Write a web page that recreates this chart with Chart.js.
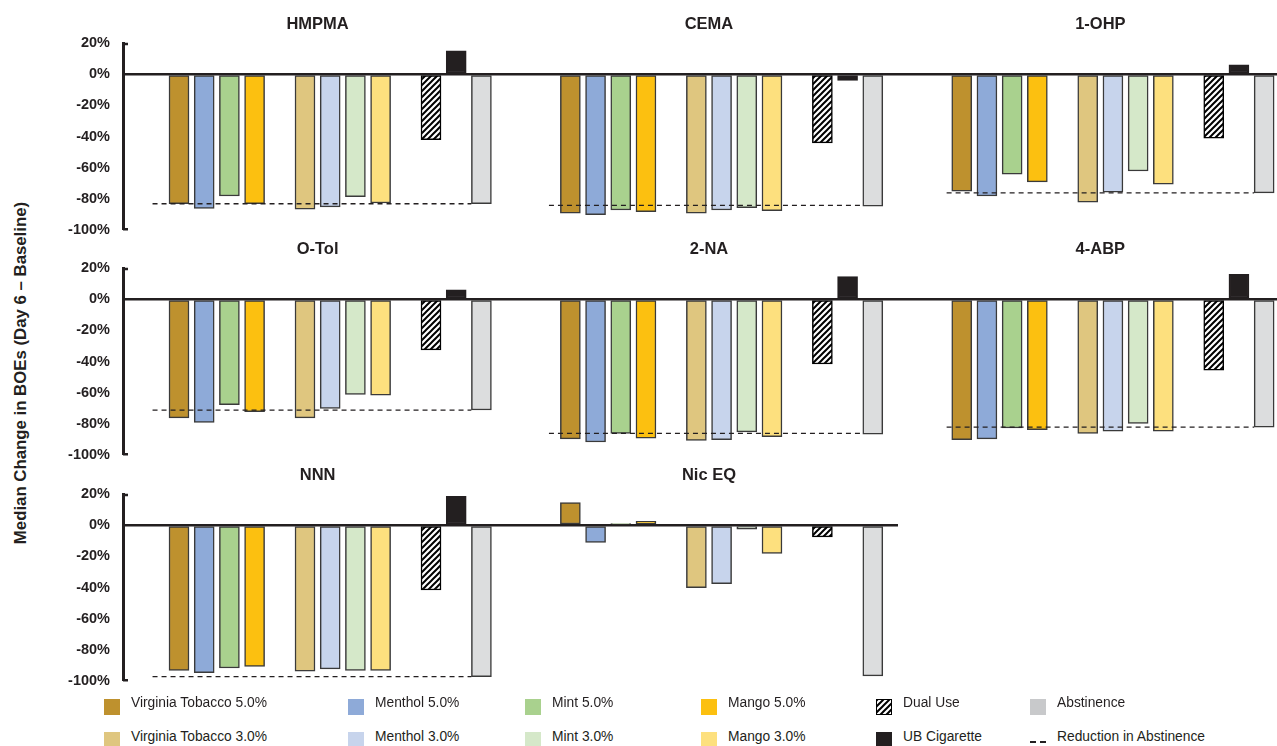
<!DOCTYPE html>
<html>
<head>
<meta charset="utf-8">
<title>Median change in BOEs</title>
<script src="https://cdn.jsdelivr.net/npm/chart.js@4.4.1/dist/chart.umd.min.js"></script>
<style>
  body { margin: 0; background: #fff; font-family: "Liberation Sans", Arial, sans-serif; color: #231f20; }
  #page { position: relative; width: 1277px; height: 746px; overflow: hidden; }
  #page canvas { position: absolute; left: 0; }
  #ytitle { position: absolute; left: 21px; top: 373px; transform: translate(-50%, -50%) rotate(-90deg); font-weight: bold; font-size: 16.8px; white-space: nowrap; }
  .key { position: absolute; font-size: 13.8px; line-height: 16px; white-space: nowrap; }
  .swatch { position: absolute; width: 16px; height: 16px; box-sizing: border-box; }
</style>
</head>
<body>
<div id="page">
  <div id="ytitle">Median Change in BOEs (Day 6 – Baseline)</div>
</div>
<script>
// one value per panel, same order as panels
const panels = ['HMPMA', 'CEMA', '1-OHP', 'O-Tol', '2-NA', '4-ABP', 'NNN', 'Nic EQ']

const groups = [
  'Virginia Tobacco 5.0%', 'Menthol 5.0%', 'Mint 5.0%', 'Mango 5.0%',
  'Virginia Tobacco 3.0%', 'Menthol 3.0%', 'Mint 3.0%', 'Mango 3.0%',
  'Dual Use', 'UB Cigarette', 'Abstinence',
]

const vt5 = [-83, -89, -75, -76, -89.5, -90, -93, 14.5]
const menthol5 = [-86, -90, -78, -79, -91.5, -89.5, -94.5, -11]
const mint5 = [-78, -87, -64, -67.5, -86, -82.5, -91.5, 1]
const mango5 = [-83, -88, -69, -72, -89, -83.5, -90.5, 2.5]
const vt3 = [-86.5, -89, -82, -76, -90.5, -86, -93.5, -40]
const menthol3 = [-85, -87, -75.5, -70, -90, -84.5, -92, -37.5]
const mint3 = [-78.5, -85.5, -62, -61, -85, -79.5, -93, -2.5]
const mango3 = [-82.5, -87.5, -70.5, -61.5, -88, -84.5, -93, -18]
const dualUse = [-42, -44, -41, -32.5, -41.5, -45.5, -41.5, -7.5]
const ubCigarette = [15, -4, 6, 6, 14.5, 16, 18.5, null]
const abstinence = [-83, -84.5, -76, -71, -86.5, -82, -97, -96.5]
const abstinenceReduction = [-83, -84, -76, -71, -86, -82, -97, null]

const series = [vt5, menthol5, mint5, mango5, vt3, menthol3, mint3, mango3, dualUse, ubCigarette, abstinence]

const yTicks = [20, 0, -20, -40, -60, -80, -100]

const INK = '#231f20'
const FONT = '"Liberation Sans", Arial, sans-serif'
Chart.defaults.font.family = FONT
Chart.defaults.color = INK

function hatchTile() {
  const c = document.createElement('canvas')
  c.width = 6
  c.height = 6
  const g = c.getContext('2d')
  g.fillStyle = '#fff'
  g.fillRect(0, 0, 6, 6)
  g.strokeStyle = '#000'
  g.lineWidth = 2
  g.beginPath()
  g.moveTo(-1, 7); g.lineTo(7, -1)
  g.moveTo(-1, 1); g.lineTo(1, -1)
  g.moveTo(5, 7); g.lineTo(7, 5)
  g.stroke()
  return c
}
const tile = hatchTile()
const hatch = tile.getContext('2d').createPattern(tile, 'repeat')

const colors = ['#be912e', '#8eaad8', '#a9d18e', '#fcc010', '#dfc67f', '#c7d4ec', '#d5e8c9', '#fde07e', hatch, INK, '#dcddde']
// the legend key for abstinence is a shade darker than the bars
const keyColors = colors.slice()
keyColors[10] = '#c8c9cb'

// layout: slot of each bar inside a panel, panel spacing in slots
const slots = [0, 1, 2, 3, 5, 6, 7, 8, 10, 11, 12]
const PANEL_STEP = 15.53
const X_MIN = -2.222
const rowTops = [43, 268.3, 494.3]
const rowWidths = [1277, 1277, 898]
const rowXMax = [43.57, 43.57, 28.53]
const dashStart = [-1.05, -0.85, -0.6]
const PLOT_H = 187
const PAD_TOP = 40

const panelTitles = {
  id: 'panelTitles',
  afterDraw(chart, args, opts) {
    const { ctx, chartArea, scales } = chart
    ctx.save()
    ctx.fillStyle = INK
    ctx.font = 'bold 16.5px ' + FONT
    ctx.textAlign = 'center'
    ctx.textBaseline = 'middle'
    opts.names.forEach((name, c) => {
      ctx.fillText(name, scales.x.getPixelForValue(c * PANEL_STEP + 5.5), chartArea.top - 19)
    })
    // small inward caps on the y axis ends
    ctx.strokeStyle = INK
    ctx.lineWidth = 2.5
    ctx.beginPath()
    ctx.moveTo(chartArea.left, chartArea.top + 1)
    ctx.lineTo(chartArea.left + 5, chartArea.top + 1)
    ctx.moveTo(chartArea.left, chartArea.bottom - 1)
    ctx.lineTo(chartArea.left + 5, chartArea.bottom - 1)
    ctx.stroke()
    ctx.restore()
  },
}

function rowConfig(r) {
  const first = r * 3
  const names = panels.slice(first, first + 3)

  const datasets = series.map((values, k) => ({
    type: 'bar',
    label: groups[k],
    data: names
      .map((_, c) => ({ x: c * PANEL_STEP + slots[k], y: values[first + c] }))
      .filter((p) => p.y !== null),
    backgroundColor: colors[k],
    borderColor: k === 8 ? '#000' : k === 9 ? INK : '#3a3a3a',
    borderWidth: 1.5,
    borderSkipped: false,
    barThickness: 20,
    grouped: false,
    order: 1,
  }))

  const refLine = []
  names.forEach((_, c) => {
    const v = abstinenceReduction[first + c]
    if (v === null) return
    refLine.push({ x: c * PANEL_STEP + dashStart[c], y: v })
    refLine.push({ x: c * PANEL_STEP + 11.6, y: v })
    refLine.push({ x: c * PANEL_STEP + 13, y: null })
  })
  datasets.push({
    type: 'line',
    label: 'Reduction in Abstinence',
    data: refLine,
    borderColor: INK,
    borderWidth: 1.3,
    borderDash: [5, 4],
    pointRadius: 0,
    spanGaps: false,
    order: 0,
  })

  return {
    data: { datasets },
    plugins: [panelTitles],
    options: {
      responsive: false,
      maintainAspectRatio: false,
      animation: false,
      layout: { padding: { top: PAD_TOP, bottom: 12, left: 0, right: 0 } },
      plugins: {
        legend: { display: false },
        tooltip: { enabled: false },
        panelTitles: { names },
      },
      scales: {
        x: { type: 'linear', offset: false, min: X_MIN, max: rowXMax[r], display: false },
        y: {
          min: -100,
          max: 20,
          afterBuildTicks: (s) => { s.ticks = yTicks.map((v) => ({ value: v })) },
          afterFit: (s) => { s.width = 123 },
          border: { display: true, width: 3, color: INK },
          grid: {
            drawTicks: false,
            color: (ctx) => (ctx.tick && ctx.tick.value === 0 ? INK : 'rgba(0,0,0,0)'),
            lineWidth: (ctx) => (ctx.tick && ctx.tick.value === 0 ? 2.5 : 0),
          },
          ticks: {
            padding: 13,
            color: INK,
            font: { size: 14.5, weight: 'bold' },
            callback: (v) => v + '%',
          },
        },
      },
    },
  }
}

function buildRow(r) {
  const canvas = document.createElement('canvas')
  canvas.width = rowWidths[r]
  canvas.height = PAD_TOP + PLOT_H + 12
  document.getElementById('page').appendChild(canvas)

  let chart = new Chart(canvas, rowConfig(r))
  // make the plot area exactly PLOT_H tall, then line it up with its row
  const extra = Math.round(PLOT_H - (chart.chartArea.bottom - chart.chartArea.top))
  if (extra !== 0) {
    chart.destroy()
    canvas.width = rowWidths[r]
    canvas.height = PAD_TOP + PLOT_H + 12 + extra
    chart = new Chart(canvas, rowConfig(r))
  }
  canvas.style.top = (rowTops[r] - chart.chartArea.top) + 'px'
}

[0, 1, 2].forEach(buildRow)

// legend, two rows of six keys
const keyX = [104, 348, 525, 701, 876, 1030]
const keyRows = [[0, 1, 2, 3, 8, 10], [4, 5, 6, 7, 9, -1]]
const keySwatchTop = [699, 732]
const keyTextMid = [703, 737]
const page = document.getElementById('page')
keyRows.forEach((row, ri) => {
  row.forEach((k, ci) => {
    const sw = document.createElement('div')
    sw.className = 'swatch'
    sw.style.left = keyX[ci] + 'px'
    sw.style.top = keySwatchTop[ri] + 'px'
    if (k === -1) {
      sw.style.top = '741px'
      sw.style.height = '1.5px'
      sw.style.background = 'repeating-linear-gradient(90deg, ' + INK + ' 0 6px, transparent 6px 10px)'
    } else if (k === 8) {
      sw.style.backgroundImage = 'url(' + tile.toDataURL() + ')'
      sw.style.border = '1px solid #000'
    } else {
      sw.style.background = keyColors[k]
    }
    page.appendChild(sw)

    const tx = document.createElement('div')
    tx.className = 'key'
    tx.style.left = (keyX[ci] + 27) + 'px'
    tx.style.top = (keyTextMid[ri] - 8) + 'px'
    tx.textContent = k === -1 ? 'Reduction in Abstinence' : groups[k]
    page.appendChild(tx)
  })
})
</script>
</body>
</html>
